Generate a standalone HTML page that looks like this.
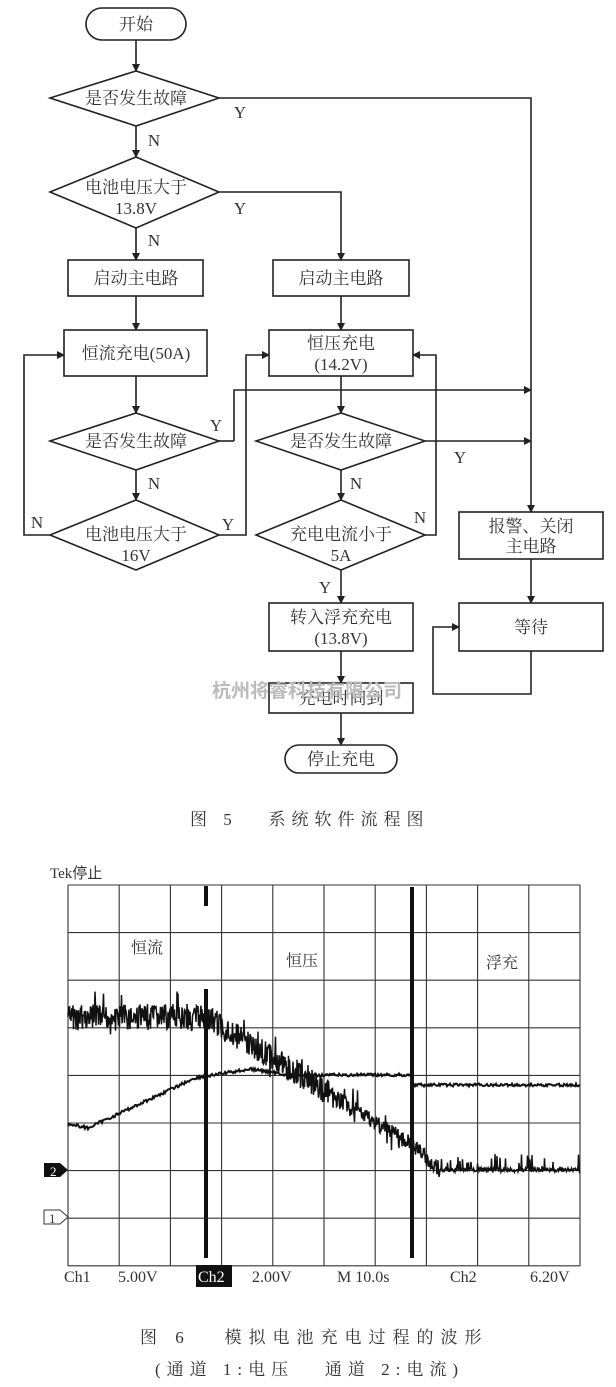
<!DOCTYPE html>
<html><head><meta charset="utf-8"><style>
html,body{margin:0;padding:0;background:#fff;}
svg{display:block;}
text{font-family:"Liberation Serif","Noto Serif CJK SC",serif;fill:#333;}
</style></head><body>
<svg id="s" width="616" height="1387" viewBox="0 0 616 1387" xmlns="http://www.w3.org/2000/svg">
<defs><marker id="a" markerWidth="8" markerHeight="8" refX="7" refY="4" orient="auto" markerUnits="userSpaceOnUse"><path d="M0,0 L8,4 L0,8 Z" fill="#222"/></marker></defs>
<g stroke="#222" stroke-width="1.6" fill="none">
<rect x="86" y="8" width="100" height="32" rx="16"/>
<line x1="136" y1="40" x2="136" y2="71" marker-end="url(#a)"/>
<polygon points="50,98 136,71 219,98 136,126"/>
<polyline points="219,98 531,98 531,512" marker-end="url(#a)"/>
<line x1="136" y1="126" x2="136" y2="157" marker-end="url(#a)"/>
<polygon points="50,192 136,157 219,192 136,228"/>
<polyline points="219,192 341,192 341,260" marker-end="url(#a)"/>
<line x1="136" y1="228" x2="136" y2="260" marker-end="url(#a)"/>
<rect x="68" y="260" width="135" height="36"/>
<rect x="273" y="260" width="136" height="36"/>
<line x1="136" y1="296" x2="136" y2="330" marker-end="url(#a)"/>
<line x1="341" y1="296" x2="341" y2="330" marker-end="url(#a)"/>
<rect x="64" y="330" width="143" height="46"/>
<rect x="269" y="330" width="144" height="46"/>
<line x1="136" y1="376" x2="136" y2="413" marker-end="url(#a)"/>
<line x1="341" y1="376" x2="341" y2="413" marker-end="url(#a)"/>
<polyline points="234,441 234,390 531,390" marker-end="url(#a)"/>
<polygon points="50,441 136,413 219,441 136,470"/>
<polyline points="219,441 234,441"/>
<polygon points="256,441 341,413 425,441 341,470"/>
<line x1="425" y1="441" x2="531" y2="441" marker-end="url(#a)"/>
<line x1="136" y1="470" x2="136" y2="500" marker-end="url(#a)"/>
<line x1="341" y1="470" x2="341" y2="500" marker-end="url(#a)"/>
<polygon points="50,535 136,500 219,535 136,570"/>
<polygon points="256,535 341,500 425,535 341,570"/>
<polyline points="50,535 24,535 24,355 64,355" marker-end="url(#a)"/>
<polyline points="219,535 246,535 246,355 269,355" marker-end="url(#a)"/>
<polyline points="425,535 436,535 436,355 413,355" marker-end="url(#a)"/>
<line x1="341" y1="570" x2="341" y2="603" marker-end="url(#a)"/>
<rect x="269" y="603" width="144" height="48"/>
<line x1="341" y1="651" x2="341" y2="683" marker-end="url(#a)"/>
<rect x="269" y="683" width="144" height="30"/>
<line x1="341" y1="713" x2="341" y2="745" marker-end="url(#a)"/>
<rect x="285" y="745" width="112" height="28" rx="14"/>
<rect x="459" y="512" width="144" height="47"/>
<line x1="531" y1="559" x2="531" y2="603" marker-end="url(#a)"/>
<rect x="459" y="603" width="144" height="48"/>
<polyline points="531,651 531,694 433,694 433,627 459,627" marker-end="url(#a)"/>
</g>
<g font-size="17" text-anchor="middle">
<text x="136" y="30">开始</text>
<text x="136" y="104">是否发生故障</text>
<text x="136" y="193">电池电压大于</text>
<text x="136" y="214">13.8V</text>
<text x="136" y="284">启动主电路</text>
<text x="341" y="284">启动主电路</text>
<text x="136" y="359">恒流充电(50A)</text>
<text x="341" y="349">恒压充电</text>
<text x="341" y="370">(14.2V)</text>
<text x="136" y="447">是否发生故障</text>
<text x="341" y="447">是否发生故障</text>
<text x="136" y="540">电池电压大于</text>
<text x="136" y="561">16V</text>
<text x="341" y="540">充电电流小于</text>
<text x="341" y="561">5A</text>
<text x="341" y="623">转入浮充充电</text>
<text x="341" y="644">(13.8V)</text>
<text x="341" y="704">充电时间到</text>
<text x="341" y="765">停止充电</text>
<text x="531" y="532">报警、关闭</text>
<text x="531" y="552">主电路</text>
<text x="531" y="633">等待</text>
<text x="240" y="118">Y</text><text x="240" y="214">Y</text>
<text x="154" y="146">N</text><text x="154" y="246">N</text>
<text x="216" y="431">Y</text><text x="460" y="463">Y</text>
<text x="154" y="489">N</text><text x="356" y="489">N</text>
<text x="37" y="528">N</text><text x="228" y="530">Y</text>
<text x="420" y="523">N</text><text x="325" y="593">Y</text>
</g>
<text x="307" y="697" font-size="19" text-anchor="middle" style="fill:#bbb;font-family:'Noto Sans CJK SC',sans-serif" font-weight="bold">杭州将睿科技有限公司</text>
<text x="190" y="825" font-size="17" letter-spacing="6" xml:space="preserve">图 5   系统软件流程图</text>
<text x="50" y="878" font-size="15" style="font-family:'Liberation Serif','Noto Sans CJK SC',serif">Tek停止</text>
<g id="grid" stroke="#333" stroke-width="1.1"></g>
<g font-size="16" text-anchor="middle">
<text x="147" y="953">恒流</text><text x="302" y="966">恒压</text><text x="502" y="968">浮充</text>
</g>
<path id="t1" fill="none" stroke="#111" stroke-width="1.5"/>
<path id="t2" fill="none" stroke="#111" stroke-width="2"/>
<g fill="#111">
<rect x="204" y="886" width="4" height="20"/><rect x="204" y="989" width="4" height="269"/>
<rect x="410" y="887" width="4" height="371"/>
</g>
<path d="M44,1163 H60 L68,1170 L60,1177 H44 Z" fill="#111"/>
<text x="50" y="1176" font-size="13" style="fill:#fff">2</text>
<path d="M44,1210 H60 L68,1217 L60,1224 H44 Z" fill="#fff" stroke="#333"/>
<text x="49" y="1223" font-size="13">1</text>
<rect x="196" y="1265" width="36" height="22" fill="#111"/>
<g font-size="16">
<text x="64" y="1282">Ch1</text><text x="118" y="1282">5.00V</text>
<text x="198" y="1282" style="fill:#fff">Ch2</text><text x="252" y="1282">2.00V</text>
<text x="337" y="1282">M 10.0s</text><text x="450" y="1282">Ch2</text><text x="530" y="1282">6.20V</text>
</g>
<text x="140" y="1343" font-size="17" letter-spacing="7" xml:space="preserve">图 6   模拟电池充电过程的波形</text>
<text x="155" y="1375" font-size="17" letter-spacing="6" xml:space="preserve">(通道 1:电压   通道 2:电流)</text>
</svg>
<script>
var g=document.getElementById('grid'),h='';
for(var i=0;i<=10;i++){var x=68+i*51.2;h+='<line x1="'+x+'" y1="885" x2="'+x+'" y2="1266"/>';}
for(var j=0;j<=8;j++){var y=885+j*47.6;h+='<line x1="68" y1="'+y+'" x2="580" y2="'+y+'"/>';}
g.innerHTML=h;
var s=7;function r(){s=(s*9301+49297)%233280;return s/233280;}
function f1(x){if(x<206)return 1017;if(x<412)return 1017+(x-206)/206*128;if(x<440)return 1145+(x-412)/28*25;return 1170;}
var d='';for(var x=68;x<=580;x+=0.5){var y=f1(x);var n;
if(x<440){n=(r()-0.5)*(x<330?26:16);if(r()<0.08)n+=(r()-0.5)*40;}else{n=(r()<0.12?-(r()*16):(r()-0.5)*4);}
d+=(x==68?'M':'L')+x+','+(y+n).toFixed(1);}
document.getElementById('t1').setAttribute('d',d);
function f2(x){if(x<88)return 1124+(x-68)/20*4;if(x<195)return 1128-(x-88)/107*50;if(x<250)return 1078-(x-195)/55*9;if(x<290)return 1069+(x-250)/40*6;if(x<412)return 1075;return 1085;}
d='';for(x=68;x<=580;x+=1){d+=(x==68?'M':'L')+x+','+(f2(x)+(r()-0.5)*3).toFixed(1);}
document.getElementById('t2').setAttribute('d',d);
</script>
</body></html>
